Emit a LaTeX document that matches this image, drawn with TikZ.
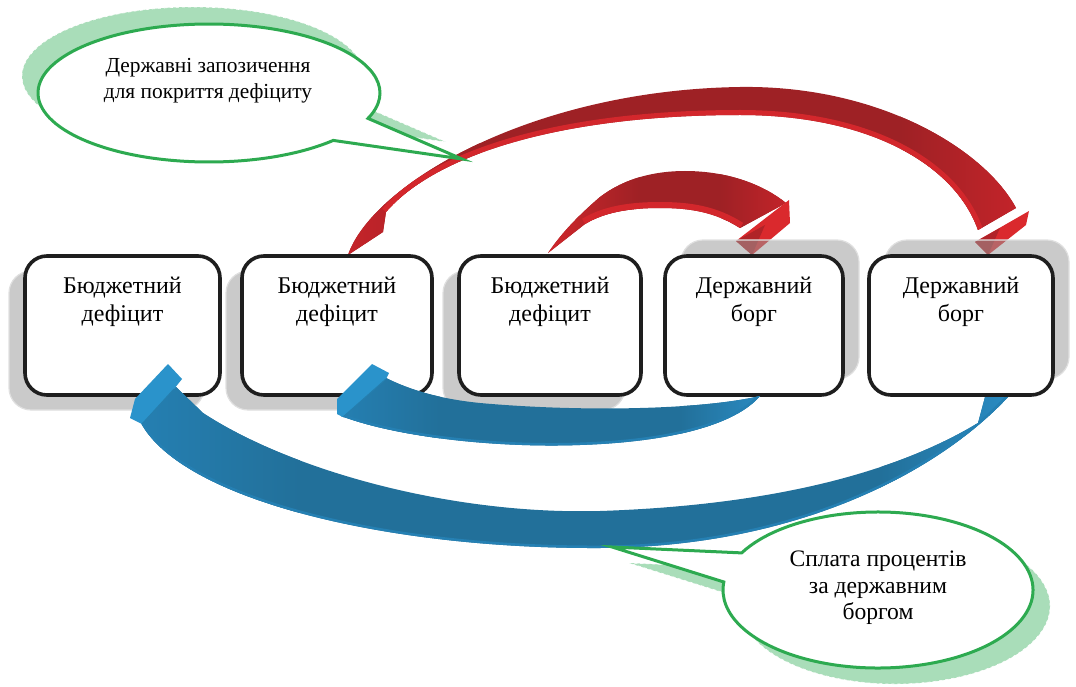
\documentclass[tikz,border=0pt]{standalone}
\usepackage{fontspec}
\setmainfont{Liberation Serif}
\usetikzlibrary{calc}
\definecolor{redD}{HTML}{9E2125}
\definecolor{redM}{HTML}{C7242A}
\definecolor{redL}{HTML}{D3272C}
\definecolor{redH}{HTML}{DA292D}
\definecolor{blueD}{HTML}{22709A}
\definecolor{blueM}{HTML}{2580B3}
\definecolor{blueL}{HTML}{2A8BC2}
\definecolor{blueH}{HTML}{2A93CB}
\definecolor{grn}{HTML}{2DAA50}
\definecolor{grnS}{HTML}{9AD7AD}
\definecolor{shd}{HTML}{999999}
\definecolor{boxline}{HTML}{1E1E1E}

\newcommand\calloutA{($(209,93)+(43.4:171 and 69)$) arc[start angle=43.4, end angle=381.6, x radius=171, y radius=69] -- (462,159) -- cycle}
\newcommand\calloutB{($(878,590)+(208.4:155 and 78)$) arc[start angle=208.4, end angle=545.9, x radius=155, y radius=78] -- (612,547) -- cycle}

\newcommand\bigRedBand{(348,255) .. controls (372,185) and (530,90) .. (740,87) .. controls (880,85) and (985,150) .. (1016,208) -- (978,230) .. controls (955,165) and (870,115) .. (740,115) .. controls (560,115) and (435,155) .. (386,212) -- (383,232) -- cycle}
\newcommand\bigRedInner{(978,230) .. controls (955,165) and (870,115) .. (740,115) .. controls (560,115) and (435,155) .. (386,212)}
\newcommand\smallRedBand{(548,253) .. controls (565,228) and (585,210) .. (600,197) .. controls (625,178) and (655,171) .. (685,171) .. controls (730,171) and (765,186) .. (786,203) -- (740,228) .. controls (715,212) and (690,208) .. (660,208) .. controls (630,208) and (605,212) .. (585,224) -- cycle}
\newcommand\smallRedInner{(740,228) .. controls (715,212) and (690,208) .. (660,208) .. controls (630,208) and (605,212) .. (585,224)}

\newcommand\bigBlueBand{(985,397) -- (978,423) .. controls (900,470) and (780,505) .. (600,511) .. controls (450,515) and (290,470) .. (203,413) -- (176,387) -- (139,419) .. controls (175,497) and (380,549) .. (600,548) .. controls (800,547) and (940,470) .. (1008,397) -- cycle}
\newcommand\bigBlueLower{(139,419) .. controls (175,497) and (380,549) .. (600,548) .. controls (800,547) and (940,470) .. (1008,397)}
\newcommand\smallBlueBand{(760,396) .. controls (700,410) and (580,412) .. (480,403) .. controls (440,399) and (410,390) .. (386,378) -- (341,416) .. controls (400,438) and (500,448) .. (580,445) .. controls (670,442) and (735,425) .. (760,396) -- cycle}
\newcommand\smallBlueLower{(341,416) .. controls (400,438) and (500,448) .. (580,445) .. controls (670,442) and (735,425) .. (760,396)}

\begin{document}
\begin{tikzpicture}[x=1pt,y=-1pt,
  boxnode/.style={draw=boxline, line width=3.6pt, rounded corners=22pt, fill=white, minimum height=139pt, inner sep=0pt},
  shadowbox/.style={fill=shd, fill opacity=0.52, draw=white!88!black, line width=1.2pt, rounded corners=22pt, minimum height=139pt, inner sep=0pt},
  boxtext/.style={align=center, font=\fontsize{24}{28}\selectfont, inner sep=0pt, anchor=north},
  calltextA/.style={align=center, font=\fontsize{21.4}{26}\selectfont, inner sep=0pt},
  calltextB/.style={align=center, font=\fontsize{23.6}{26.5}\selectfont, inner sep=0pt},
  callout/.style={draw=grn, line width=3pt, fill=white, line join=miter},
  calloutshadow/.style={fill=grnS, fill opacity=0.85, draw=white, line width=0.6pt, dashed}
]
\useasboundingbox (0,0) rectangle (1076,687);

% centres of the boxes
\coordinate (c1) at (122.5,325.5);
\coordinate (c2) at (337,325.5);
\coordinate (c3) at (550,325.5);
\coordinate (c4) at (754,325.5);
\coordinate (c5) at (961,325.5);

% shadows of the speech bubbles
\begin{scope}[shift={(-16,-17)}]
  \path[calloutshadow] \calloutA;
\end{scope}
\begin{scope}[shift={(17,16)}]
  \path[calloutshadow] \calloutB;
\end{scope}

% red arrows
\begin{scope}
  \clip \bigRedBand;
  \fill[redD] (340,80) rectangle (1030,260);
  \path[left color=redM, right color=redD] (340,80) rectangle (480,260);
  \path[left color=redD, right color=redM] (900,80) rectangle (1030,260);
  \draw[redL, line width=10pt] \bigRedInner;
\end{scope}
\fill[redH] (1029,211) -- (1026,225) -- (988,255) -- (975,242) -- cycle;
\fill[redD!70!redH] (975,242) -- (988,255) -- (1000,228) -- cycle;

\begin{scope}
  \clip \smallRedBand;
  \fill[redD] (540,165) rectangle (795,260);
  \path[left color=redL, right color=redD] (540,165) rectangle (640,260);
  \path[left color=redD, right color=redM] (720,165) rectangle (795,260);
  \draw[redL, line width=12pt] \smallRedInner;
\end{scope}
\fill[redH] (789,200) -- (790,223) -- (752,255) -- (736,241) -- cycle;
\fill[redD!70!redH] (736,241) -- (752,255) -- (765,225) -- cycle;

% box shadows
\node[shadowbox, minimum width=195pt] (s1) at ($(c1)+(-16,15)$) {};
\node[shadowbox, minimum width=190pt] (s2) at ($(c2)+(-16,15)$) {};
\node[shadowbox, minimum width=182pt] (s3) at ($(c3)+(-16,15)$) {};
\node[shadowbox, minimum width=178pt] (s4) at ($(c4)+(16,-16)$) {};
\node[shadowbox, minimum width=184pt] (s5) at ($(c5)+(16,-16)$) {};

% boxes
\node[boxnode, minimum width=195pt] (b1) at (c1) {};
\node[boxnode, minimum width=190pt] (b2) at (c2) {};
\node[boxnode, minimum width=182pt] (b3) at (c3) {};
\node[boxnode, minimum width=178pt] (b4) at (c4) {};
\node[boxnode, minimum width=184pt] (b5) at (c5) {};

\node[boxtext] (t1) at ([yshift=-23pt]b1.north) {Бюджетний\\дефіцит};
\node[boxtext] (t2) at ([yshift=-23pt]b2.north) {Бюджетний\\дефіцит};
\node[boxtext] (t3) at ([yshift=-23pt]b3.north) {Бюджетний\\дефіцит};
\node[boxtext] (t4) at ([yshift=-23pt]b4.north) {Державний\\борг};
\node[boxtext] (t5) at ([yshift=-23pt]b5.north) {Державний\\борг};

% blue arrows
\begin{scope}
  \clip \bigBlueBand;
  \fill[blueD] (130,380) rectangle (1010,550);
  \path[left color=blueM, right color=blueD] (130,380) rectangle (300,550);
  \path[left color=blueD, right color=blueL] (880,380) rectangle (1010,550);
  \draw[blueM, line width=5pt] \bigBlueLower;
\end{scope}
\fill[blueH] (168,364) -- (182,379) -- (174,389) -- (142,424) -- (130,418) -- (135,399) -- cycle;
\draw[blueD!60!blueH, line width=1pt] (174,389) -- (142,424);

\begin{scope}
  \clip \smallBlueBand;
  \fill[blueD] (335,375) rectangle (765,450);
  \path[left color=blueM, right color=blueD] (335,375) rectangle (440,450);
  \path[left color=blueD, right color=blueL] (680,375) rectangle (765,450);
  \draw[blueM, line width=5pt] \smallBlueLower;
\end{scope}
\fill[blueH] (372,364) -- (389,373) -- (386,379) -- (343,417) -- (337,414) -- (337,399) -- cycle;
\draw[blueD!60!blueH, line width=1pt] (386,379) -- (343,417);

% speech bubbles
\path[callout] \calloutA;
\path[callout] \calloutB;
\node[calltextA] (k1) at (208,81) {Державні запозичення\\для покриття дефіциту};
\node[calltextB] (k2) at (878,588) {Сплата процентів\\за державним\\боргом};
\end{tikzpicture}
\end{document}
